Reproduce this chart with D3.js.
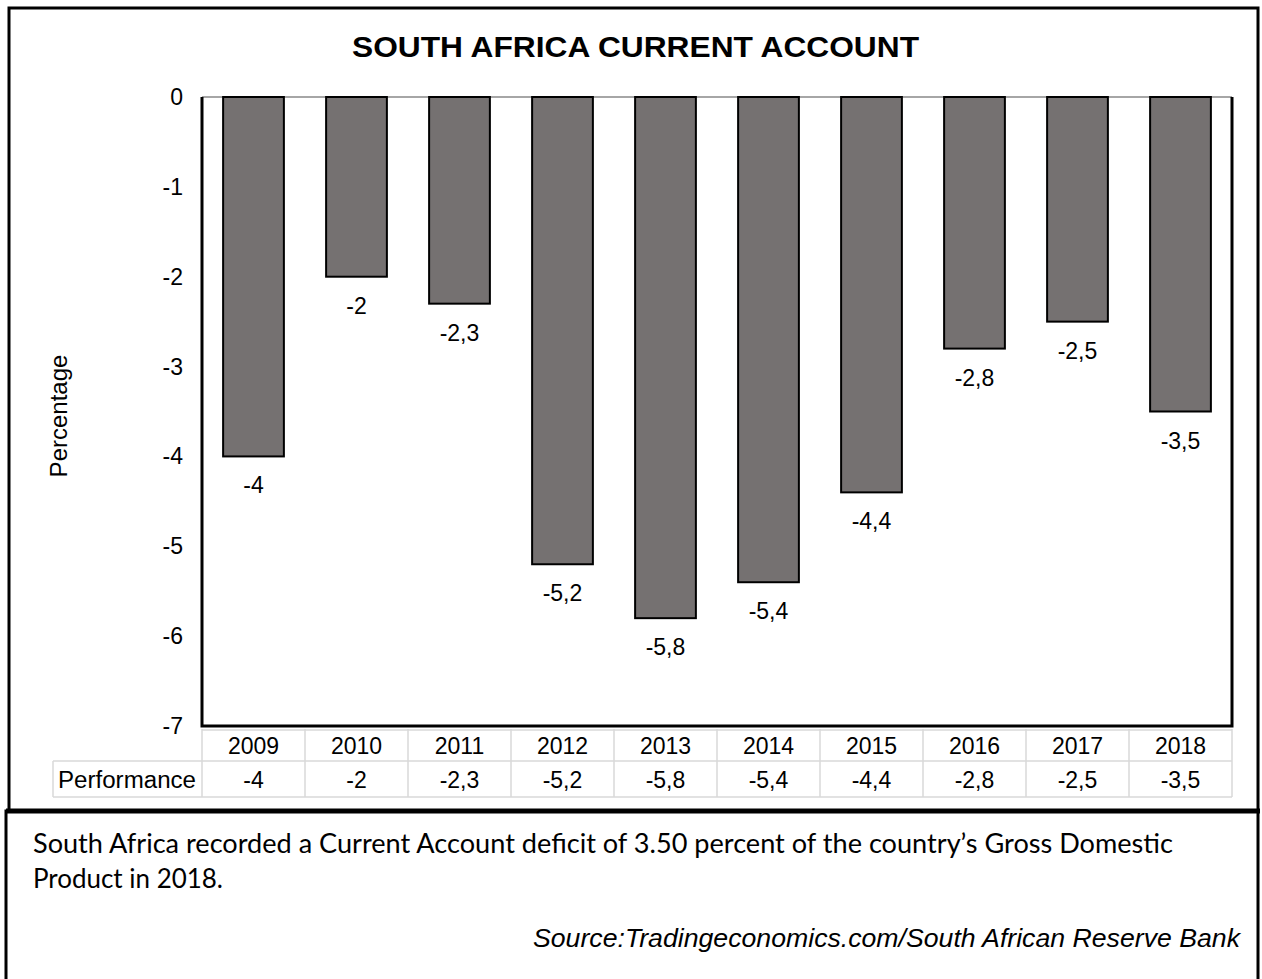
<!DOCTYPE html>
<html>
<head>
<meta charset="utf-8">
<script src="https://cdn.jsdelivr.net/npm/d3@7"></script>
<style>
  body { margin: 0; background: #fff; }
  text { font-family: "Liberation Sans", Arial, sans-serif; fill: #000; }
</style>
</head>
<body>
<script>
// data
const years = ["2009", "2010", "2011", "2012", "2013", "2014", "2015", "2016", "2017", "2018"];
const performance = [-4, -2, -2.3, -5.2, -5.8, -5.4, -4.4, -2.8, -2.5, -3.5];
const yTicks = [0, -1, -2, -3, -4, -5, -6, -7];

const fmt = v => String(v).replace(".", ",");
const labelSize = "23px";

const svg = d3.select("body").append("svg")
    .attr("width", 1262)
    .attr("height", 979);

// outer frames
svg.append("rect")
    .attr("x", 9).attr("y", 8).attr("width", 1249).attr("height", 803)
    .attr("fill", "none").attr("stroke", "#000").attr("stroke-width", 3);
svg.append("rect")
    .attr("x", 6).attr("y", 811).attr("width", 1252).attr("height", 175)
    .attr("fill", "none").attr("stroke", "#000").attr("stroke-width", 3);
svg.append("line")
    .attr("x1", 6).attr("x2", 1260).attr("y1", 811).attr("y2", 811)
    .attr("stroke", "#000").attr("stroke-width", 5);

// title
svg.append("text")
    .attr("x", 352).attr("y", 57)
    .attr("textLength", 567).attr("lengthAdjust", "spacingAndGlyphs")
    .style("font-size", "29px").style("font-weight", "bold")
    .text("SOUTH AFRICA CURRENT ACCOUNT");

const plotLeft = 202, plotRight = 1232, plotTop = 97, plotBottom = 726;

const x = d3.scaleBand().domain(years).range([plotLeft, plotRight]).paddingInner(0.41).paddingOuter(0.205);
const band = d3.scaleBand().domain(years).range([plotLeft, plotRight]);
const y = d3.scaleLinear().domain([0, -7]).range([plotTop, plotBottom]);

// y tick labels
svg.append("g").selectAll("text")
    .data(yTicks)
    .join("text")
    .attr("x", 183)
    .attr("y", d => y(d))
    .attr("dy", "0.35em")
    .attr("text-anchor", "end")
    .style("font-size", labelSize)
    .text(d => d);

svg.append("text")
    .attr("transform", `translate(67, 416) rotate(-90)`)
    .attr("text-anchor", "middle")
    .style("font-size", "24px")
    .text("Percentage");

// plot frame
svg.append("line")
    .attr("x1", plotLeft).attr("x2", plotRight).attr("y1", y(0)).attr("y2", y(0))
    .attr("stroke", "#a6a6a6").attr("stroke-width", 2);
svg.append("path")
    .attr("d", `M${plotLeft},${y(0)}V${y(-7)}H${plotRight}V${y(0)}`)
    .attr("fill", "none").attr("stroke", "#000").attr("stroke-width", 3);

// bars
svg.append("g").selectAll("rect")
    .data(performance)
    .join("rect")
    .attr("x", (d, i) => x(years[i]))
    .attr("y", y(0))
    .attr("width", x.bandwidth())
    .attr("height", d => y(d) - y(0))
    .attr("fill", "#757171")
    .attr("stroke", "#000")
    .attr("stroke-width", 2);

// value labels
svg.append("g").selectAll("text")
    .data(performance)
    .join("text")
    .attr("x", (d, i) => x(years[i]) + x.bandwidth() / 2)
    .attr("y", d => y(d) + 29)
    .attr("dy", "0.35em")
    .attr("text-anchor", "middle")
    .style("font-size", labelSize)
    .text(d => fmt(d));

// data table
const row1 = 729, row2 = 761, row3 = 797, tableLeft = 53;
const grid = svg.append("g").attr("stroke", "#d9d9d9").attr("stroke-width", 1.5);
grid.append("line").attr("x1", plotLeft).attr("x2", plotRight).attr("y1", row1 + 1).attr("y2", row1 + 1);
grid.append("line").attr("x1", tableLeft).attr("x2", plotRight).attr("y1", row2).attr("y2", row2);
grid.append("line").attr("x1", tableLeft).attr("x2", plotRight).attr("y1", row3).attr("y2", row3);
grid.append("line").attr("x1", tableLeft).attr("x2", tableLeft).attr("y1", row2).attr("y2", row3);
grid.selectAll("line.col")
    .data(years.concat(["end"]))
    .join("line")
    .attr("class", "col")
    .attr("x1", (d, i) => i < years.length ? band(d) : plotRight)
    .attr("x2", (d, i) => i < years.length ? band(d) : plotRight)
    .attr("y1", row1)
    .attr("y2", row3);

svg.append("g").selectAll("text")
    .data(years)
    .join("text")
    .attr("x", d => band(d) + band.bandwidth() / 2)
    .attr("y", (row1 + row2) / 2 + 1)
    .attr("dy", "0.35em")
    .attr("text-anchor", "middle")
    .style("font-size", labelSize)
    .text(d => d);

svg.append("g").selectAll("text")
    .data(performance)
    .join("text")
    .attr("x", (d, i) => band(years[i]) + band.bandwidth() / 2)
    .attr("y", (row2 + row3) / 2 + 1)
    .attr("dy", "0.35em")
    .attr("text-anchor", "middle")
    .style("font-size", labelSize)
    .text(d => fmt(d));

svg.append("text")
    .attr("x", 196).attr("y", (row2 + row3) / 2 + 1)
    .attr("dy", "0.35em")
    .attr("text-anchor", "end")
    .attr("textLength", 138).attr("lengthAdjust", "spacingAndGlyphs")
    .style("font-size", labelSize)
    .text("Performance");

// note
svg.append("text")
    .attr("x", 33).attr("y", 853)
    .style("font-size", "27px")
    .attr("textLength", 1140).attr("lengthAdjust", "spacingAndGlyphs")
    .style("font-family", "Lato, sans-serif")
    .text("South Africa recorded a Current Account deficit of 3.50 percent of the country\u2019s Gross Domestic");
svg.append("text")
    .attr("x", 33).attr("y", 888)
    .style("font-size", "27px")
    .attr("textLength", 190).attr("lengthAdjust", "spacingAndGlyphs")
    .style("font-family", "Lato, sans-serif")
    .text("Product in 2018.");

svg.append("text")
    .attr("x", 1240).attr("y", 947)
    .attr("text-anchor", "end")
    .attr("textLength", 707).attr("lengthAdjust", "spacingAndGlyphs")
    .style("font-size", "25px").style("font-style", "italic")
    .text("Source:Tradingeconomics.com/South African Reserve Bank");
</script>
</body>
</html>
